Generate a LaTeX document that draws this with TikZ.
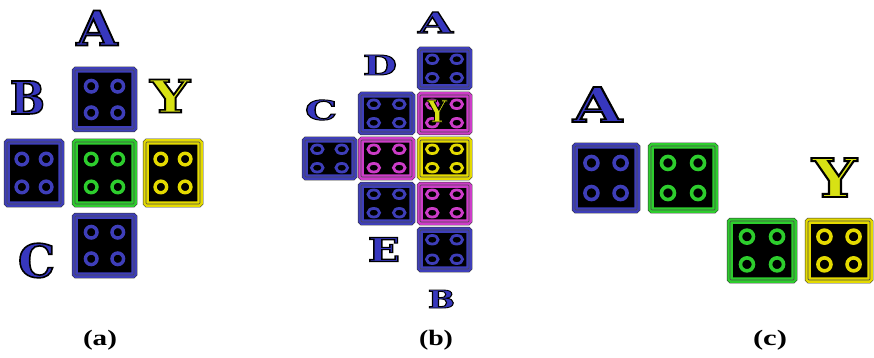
\documentclass[tikz,border=0pt]{standalone}
\usepackage{fontspec}
\setmainfont{Liberation Serif}
\newfontfamily\slab{DejaVu Serif}
\usepackage{graphicx}
\usetikzlibrary{calc}
\definecolor{tblue}{RGB}{62,62,185}
\definecolor{tgreen}{RGB}{45,205,45}
\definecolor{tyellow}{RGB}{228,218,0}
\definecolor{tmag}{RGB}{205,60,200}
\definecolor{lblue}{RGB}{55,55,190}
\definecolor{lyel}{RGB}{215,225,20}
% outlined letter: fill in colour #1, black stroke of width #5 (before scaling)
\newcommand\lett[5]{\textcolor{#1}{\resizebox{#2}{#3}{\special{pdf:literal direct 0 G 2 Tr #5 w}\slab\bfseries #4\special{pdf:literal direct 0 Tr}}}}
\newcommand\capt[1]{\resizebox*{34pt}{20pt}{\bfseries(#1)}}
\tikzset{
  ringfrac/.store in=\ringfrac, ringrx/.store in=\ringrx,
  ringry/.store in=\ringry, ringlw/.store in=\ringlw,
  ringfrac=0.46, ringrx=6pt, ringry=6pt, ringlw=2.8pt,
  tile/.style={rectangle, inner sep=0pt, outer sep=0pt, fill=black,
    draw=#1, line width=2.4pt, double=black!70, double distance=0.7pt,
    rounded corners=1pt,
    preaction={draw=black!80, line width=6.5pt},
    path picture={\foreach \cn in {north west,north east,south west,south east}
      \draw[#1, line width=\ringlw]
        ($(path picture bounding box.center)!\ringfrac!(path picture bounding box.\cn)$)
        ellipse [x radius=\ringrx, y radius=\ringry];}},
  tsize/.style 2 args={minimum width=#1pt, minimum height=#2pt},
  lab/.style={inner sep=0pt, outer sep=0pt},
}
\begin{document}
\begin{tikzpicture}[x=1pt,y=-1pt]
\useasboundingbox (0,0) rectangle (874,358);
% ---------- panel (a)
\begin{scope}[ringfrac=0.45, ringrx=5.8pt, ringry=5.8pt, ringlw=3.4pt]
\node[tile=tblue,   tsize={59}{59}] (a1) at (104.5,99.5) {};
\node[tile=tblue,   tsize={54}{62}] (a2) at (34,173) {};
\node[tile=tgreen,  tsize={59}{62}] (a3) at (104.5,173) {};
\node[tile=tyellow, tsize={54}{62}] (a4) at (173,173) {};
\node[tile=tblue,   tsize={59}{59}] (a5) at (104.5,245.5) {};
\end{scope}
\node[lab] (aA) at (97,28)     {\lett{lblue}{41pt}{35pt}{A}{0.35}};
\node[lab] (aB) at (27.5,97.5) {\lett{lblue}{35pt}{33pt}{B}{0.35}};
\node[lab] (aY) at (170,96)    {\lett{lyel}{40pt}{33pt}{Y}{0.35}};
\node[lab] (aC) at (36.5,260.5){\lett{lblue}{37pt}{34pt}{C}{0.35}};
% ---------- panel (b)
\begin{scope}[ringfrac=0.5, ringrx=5.8pt, ringry=4.3pt, ringlw=2.8pt]
\node[tile=tblue,   tsize={49}{37}] (b1) at (444.5,68.5) {};
\node[tile=tmag,    tsize={49}{37}] (b2) at (444.5,113.5) {};
\node[tile=tyellow, tsize={49}{37}] (b3) at (444.5,158.5) {};
\node[tile=tmag,    tsize={49}{37}] (b4) at (444.5,203.5) {};
\node[tile=tblue,   tsize={49}{39}] (b5) at (444.5,249.5) {};
\node[tile=tblue,   tsize={51}{37}] (b6) at (386.5,113.5) {};
\node[tile=tmag,    tsize={51}{37}] (b7) at (386.5,158.5) {};
\node[tile=tblue,   tsize={51}{37}] (b8) at (386.5,203.5) {};
\node[tile=tblue,   tsize={49}{37}] (b9) at (329.5,158.5) {};
\end{scope}
\node[lab] (bA) at (435.5,22.5) {\lett{lblue}{35pt}{21pt}{A}{0.35}};
\node[lab] (bD) at (380,65)     {\lett{lblue}{34pt}{20pt}{D}{0.35}};
\node[lab] (bC) at (321,110)    {\lett{lblue}{32pt}{20pt}{C}{0.35}};
\node[lab] (bY) at (437,111)    {\lett{lyel}{20pt}{22pt}{Y}{0.3}};
\node[lab] (bE) at (384,249.5)  {\lett{lblue}{32pt}{24pt}{E}{0.35}};
\node[lab] (bB) at (441.5,299)  {\lett{lblue}{27pt}{18pt}{B}{0.35}};
% ---------- panel (c)
\begin{scope}[ringfrac=0.47, ringrx=6.5pt, ringry=6.5pt, ringlw=3.6pt]
\node[tile=tblue,   tsize={62}{64}] (c1) at (606,178) {};
\node[tile=tgreen,  tsize={64}{64}] (c2) at (683,178) {};
\node[tile=tgreen,  tsize={64}{59}] (c3) at (762,250.5) {};
\node[tile=tyellow, tsize={62}{59}] (c4) at (839,250.5) {};
\end{scope}
\node[lab] (cA) at (597.5,104.5) {\lett{lblue}{49pt}{35pt}{A}{0.35}};
\node[lab] (cY) at (834.5,177.5) {\lett{lyel}{45pt}{39pt}{Y}{0.35}};
% ---------- captions
\node[lab] (capa) at (100,340) {\capt{a}};
\node[lab] (capb) at (436,340) {\capt{b}};
\node[lab] (capc) at (770,340) {\capt{c}};
\end{tikzpicture}
\end{document}
